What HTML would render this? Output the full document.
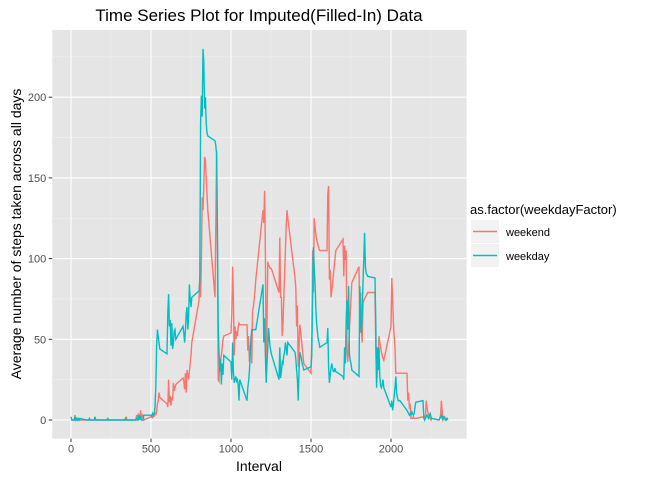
<!DOCTYPE html>
<html><head><meta charset="utf-8">
<style>
body{margin:0;background:#fff;}
svg{display:block;font-family:"Liberation Sans",sans-serif;}
</style></head>
<body>
<svg id="chart" width="672" height="480" viewBox="0 0 672 480" xmlns="http://www.w3.org/2000/svg">
<rect x="0" y="0" width="672" height="480" fill="#fff"/>
<rect x="52.2" y="30" width="414.4" height="408.6" fill="#e5e5e5"/>
<g id="grid"></g>
<g id="series"></g>
<g id="axes"></g>
<text x="259" y="21" font-size="17" text-anchor="middle" fill="#000">Time Series Plot for Imputed(Filled-In) Data</text>
<text x="259" y="471" font-size="14" text-anchor="middle" fill="#000">Interval</text>
<text transform="translate(21,234) rotate(-90)" font-size="14" text-anchor="middle" fill="#000">Average number of steps taken across all days</text>
<g>
<text x="470" y="214" font-size="13" fill="#000">as.factor(weekdayFactor)</text>
<g>
<rect x="471" y="220" width="28" height="23" fill="#f2f2f2"/>
<line x1="473" y1="231.5" x2="497" y2="231.5" stroke="#F8766D" stroke-width="1.4"/>
<text x="506" y="236" font-size="11" fill="#000">weekend</text>
</g>
<g>
<rect x="471" y="244" width="28" height="23" fill="#f2f2f2"/>
<line x1="473" y1="255.5" x2="497" y2="255.5" stroke="#00BFC4" stroke-width="1.4"/>
<text x="506" y="260" font-size="11" fill="#000">weekday</text>
</g>
</g>
</svg>
<script>
const xTicks = [0, 500, 1000, 1500, 2000];
const yTicks = [0, 50, 100, 150, 200];
const weekdayByHour = [
[2,0,0,0,0,2,0,1,0,1,0,1],
[0,0,0,1,0,0,0,0,0,0,2,0],
[0,0,0,0,0,0,1,0,0,0,0,0],
[0,0,0,0,0,0,0,0,1,0,0,0],
[0,0,1,0,0,3,1,2,0,0,0,3],
[3,2,4,3,4,8,20,45,56,52,48,44],
[41,66,78,58,62,46,60,44,48,55,56,50],
[58,54,48,55,66,70,56,64,84,75,70,76],
[80,86,184,201,188,230,222,193,200,184,178,176],
[173,170,165,120,60,42,30,38,22,35,28,40],
[36,25,48,30,23,25,27,24,25,22,12,25],
[12,20,24,30,40,51,56,56,56,56,56,56],
[84,48,63,40,23,35,45,57,50,45,42,40],
[25,45,26,30,36,35,40,42,48,45,40,48],
[42,38,31,25,12,30,42,40,38,35,33,31],
[33,40,76,107,95,85,70,60,55,50,48,45],
[48,57,33,23,28,32,35,32,30,30,32,30],
[27,25,45,35,62,74,56,83,41,37,35,31],
[27,83,60,54,68,85,100,116,95,91,90,89],
[88,60,20,45,31,45,27,21,20,22,25,20],
[8,12,6,10,15,20,27,17,14,12,12,12],
[6,5,4,3,4,3,5,4,3,4,8,11],
[12,2,0,1,2,3,2,1,3,4,2,1],
[0,1,2,3,1,2,2,1,0,0,1,0]
];
const weekendByHour = [
[0,0,0,0,0,3,0,0,0,0,0,0],
[0,0,0,0,0,0,0,0,0,0,0,0],
[0,0,0,0,0,0,0,0,0,0,0,0],
[0,0,0,0,0,0,0,0,0,2,0,0],
[0,0,3,0,4,2,0,6,1,3,2,0],
[2,3,1,4,2,5,3,5,10,12,17,14],
[10,8,25,11,15,9,14,12,23,18,20,22],
[26,24,19,29,17,31,28,25,30,35,40,48],
[74,89,76,100,138,130,145,163,161,150,140,130],
[76,120,167,107,25,24,35,38,40,45,50,52],
[54,66,95,76,40,58,50,55,52,58,60,59],
[59,43,52,36,45,48,35,68,70,75,80,87],
[130,122,142,103,32,60,98,96,95,94,94,93],
[79,113,76,76,52,60,75,90,105,120,130,125],
[88,82,58,71,33,45,59,55,50,45,40,35],
[29,52,105,79,125,120,115,112,110,108,106,105],
[105,140,145,87,93,76,80,85,90,95,100,105],
[112,89,108,99,105,43,36,45,55,65,75,85],
[95,54,79,56,48,72,74,75,76,77,78,79],
[79,43,23,30,40,52,48,45,42,40,38,37],
[58,88,76,60,52,45,29,29,29,29,29,29],
[29,12,17,8,9,1,1,1,2,1,1,1],
[2,1,2,1,12,8,5,3,2,1,0,1],
[0,1,3,12,5,0,1,2,1,0,1,0]
];
const NS = "http://www.w3.org/2000/svg";
const xs = v => 71 + v * 0.16;
const ys = v => 420 - v * 1.614;
const L = 52.2, R = 466.6, T = 30, B = 438.6;
const grid = document.getElementById('grid');
const axes = document.getElementById('axes');
function line(parent, x1, y1, x2, y2, stroke, w) {
  const l = document.createElementNS(NS, 'line');
  l.setAttribute('x1', x1); l.setAttribute('y1', y1);
  l.setAttribute('x2', x2); l.setAttribute('y2', y2);
  l.setAttribute('stroke', stroke); l.setAttribute('stroke-width', w);
  parent.appendChild(l);
  return l;
}
// minor grid
for (let i = 0; i < xTicks.length; i++) {
  const m = xTicks[i] + 250;
  if (xs(m) < R) {
    const g = line(grid, xs(m), T, xs(m), B, '#f2f2f2', 0.55);
    
    
  }
  const mm = xTicks[i] - 250;
  if (i === 0 && xs(mm) > L) {
    const g = line(grid, xs(mm), T, xs(mm), B, '#f2f2f2', 0.55);
    
    
  }
}
for (let i = 0; i < yTicks.length; i++) {
  const m = yTicks[i] + 25;
  if (ys(m) > T) {
    const g = line(grid, L, ys(m), R, ys(m), '#f2f2f2', 0.55);
    
    
  }
}
// major grid + tick labels
xTicks.forEach(v => {
  const g = line(grid, xs(v), T, xs(v), B, '#ffffff', 1.1);
  
  
  const t = line(axes, xs(v), B, xs(v), B + 3.5, '#333', 1);
  
  
  const tx = document.createElementNS(NS, 'text');
  
  
  tx.setAttribute('x', xs(v)); tx.setAttribute('y', B + 14);
  tx.setAttribute('font-size', '11'); tx.setAttribute('fill', '#4d4d4d');
  tx.setAttribute('text-anchor', 'middle');
  tx.textContent = v;
  axes.appendChild(tx);
});
yTicks.forEach(v => {
  const g = line(grid, L, ys(v), R, ys(v), '#ffffff', 1.1);
  
  
  const t = line(axes, L - 3.5, ys(v), L, ys(v), '#333', 1);
  
  
  const tx = document.createElementNS(NS, 'text');
  
  
  tx.setAttribute('x', L - 6); tx.setAttribute('y', ys(v) + 4);
  tx.setAttribute('font-size', '11'); tx.setAttribute('fill', '#4d4d4d');
  tx.setAttribute('text-anchor', 'end');
  tx.textContent = v;
  axes.appendChild(tx);
});
function buildPath(byHour) {
  const pts = [];
  byHour.forEach((row, h) => row.forEach((v, k) => {
    const interval = h * 100 + k * 5;
    pts.push(xs(interval).toFixed(2) + ',' + ys(v).toFixed(2));
  }));
  return 'M' + pts.join('L');
}
const series = document.getElementById('series');
const p1 = document.createElementNS(NS, 'path');


p1.setAttribute('d', buildPath(weekendByHour));
p1.setAttribute('fill', 'none'); p1.setAttribute('stroke', '#F8766D'); p1.setAttribute('stroke-width', '1.4');
series.appendChild(p1);
const p2 = document.createElementNS(NS, 'path');


p2.setAttribute('d', buildPath(weekdayByHour));
p2.setAttribute('fill', 'none'); p2.setAttribute('stroke', '#00BFC4'); p2.setAttribute('stroke-width', '1.4');
series.appendChild(p2);
</script>
</body></html>
